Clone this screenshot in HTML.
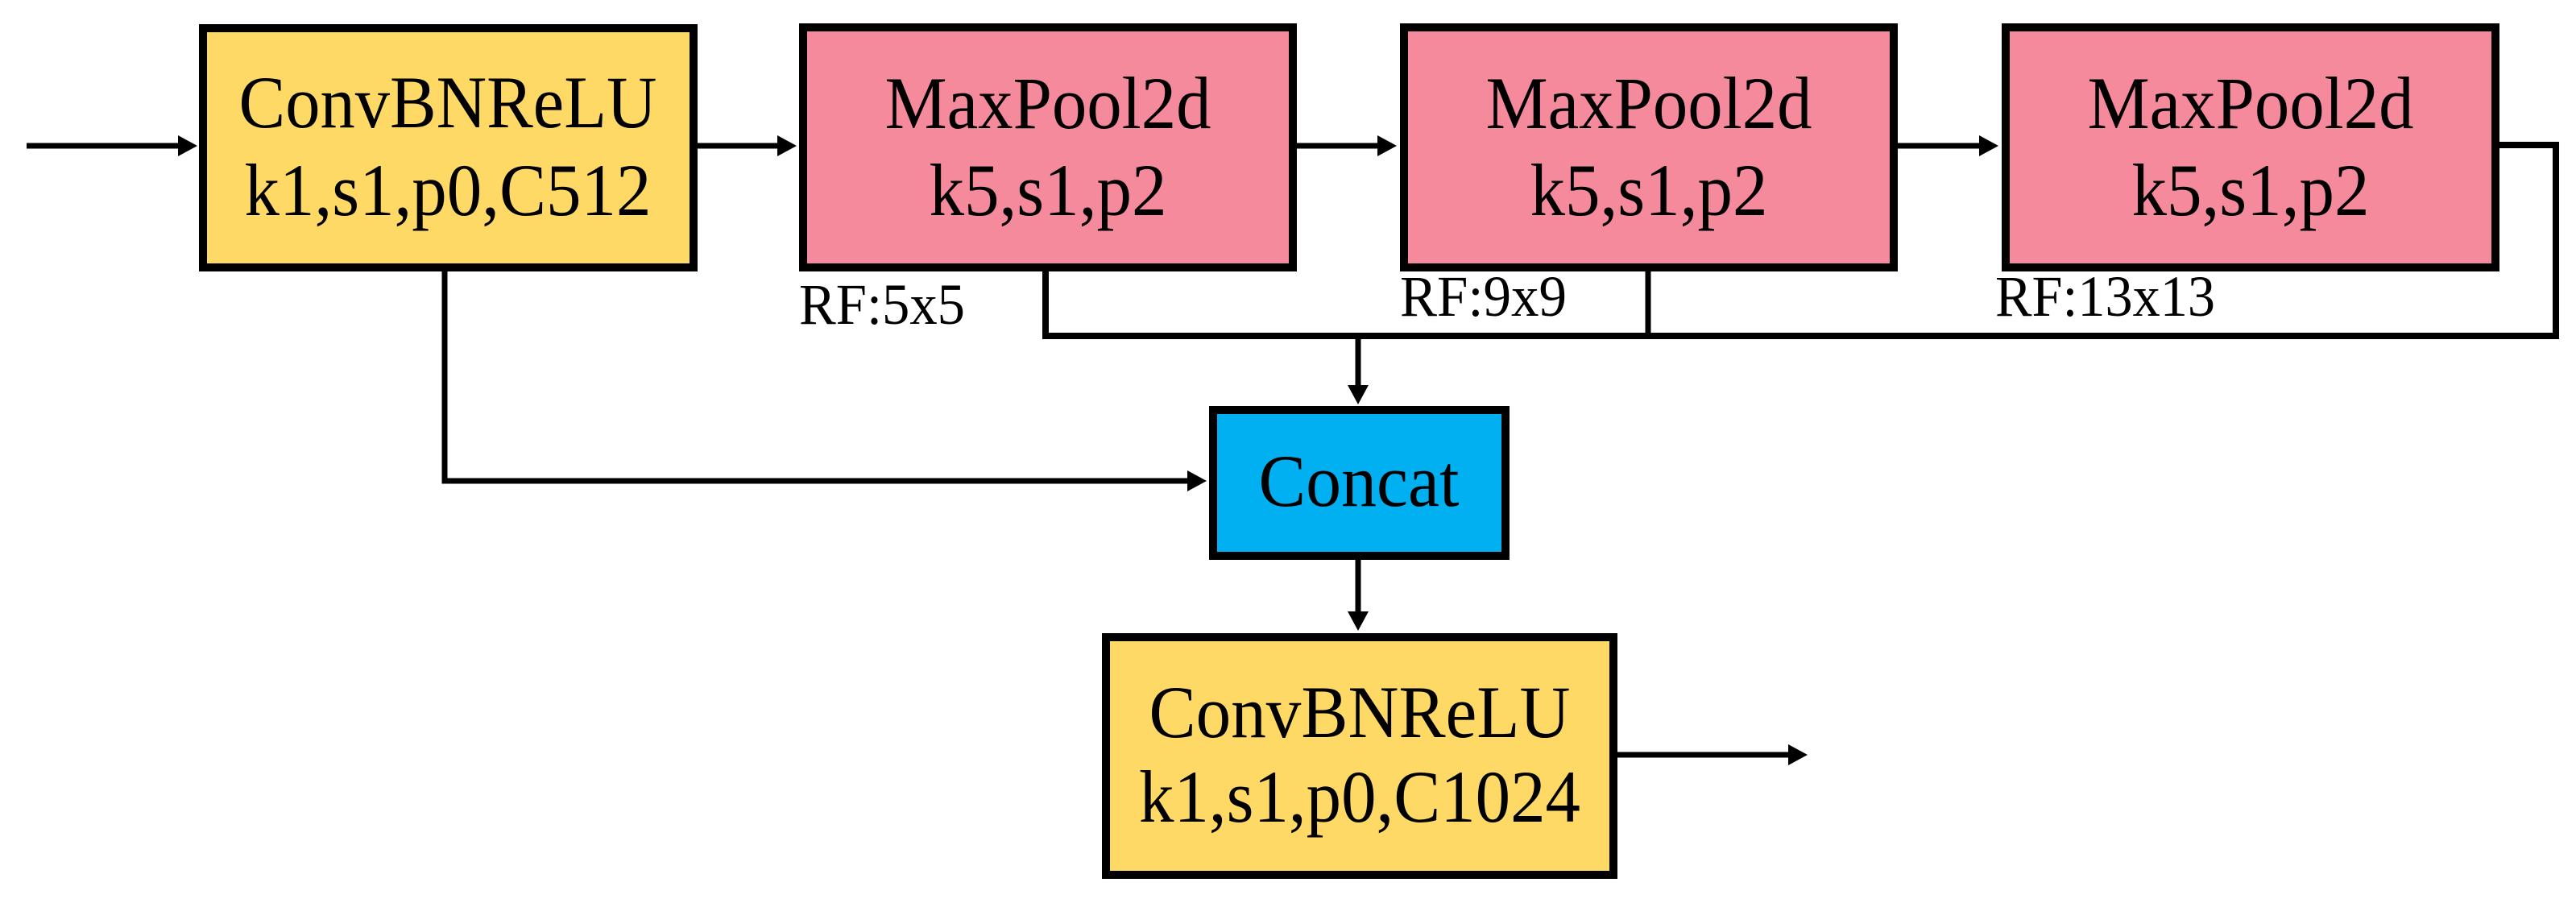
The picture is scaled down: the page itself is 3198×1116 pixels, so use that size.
<!DOCTYPE html>
<html><head><meta charset="utf-8"><style>
html,body{margin:0;padding:0;background:#fff;}
svg{display:block;}
text{font-family:"Liberation Serif","Times New Roman",serif;fill:#000;}
</style></head><body>
<svg width="3198" height="1116" viewBox="0 0 3198 1116" xmlns="http://www.w3.org/2000/svg">
<g stroke="#000" stroke-width="7" fill="none">
  <line x1="33" y1="181" x2="225" y2="181"/>
  <line x1="866" y1="181" x2="970" y2="181"/>
  <line x1="1610" y1="181" x2="1715" y2="181"/>
  <line x1="2356" y1="181" x2="2462" y2="181"/>
  <polyline points="1298,337 1298,417 3173,417 3173,180 3103,180" stroke-width="8"/>
  <line x1="2046" y1="337" x2="2046" y2="417"/>
  <line x1="1686" y1="417" x2="1686" y2="482"/>
  <polyline points="552,337 552,597 1478,597"/>
  <line x1="1686" y1="695" x2="1686" y2="764"/>
  <line x1="2008" y1="937" x2="2222" y2="937"/>
</g>
<g fill="#000">
  <polygon points="245,181 221,168 221,194"/>
  <polygon points="989,181 965,168 965,194"/>
  <polygon points="1734,181 1710,168 1710,194"/>
  <polygon points="2481,181 2457,168 2457,194"/>
  <polygon points="1686,502 1673,478 1699,478"/>
  <polygon points="1498,597 1474,584 1474,610"/>
  <polygon points="1686,783 1673,759 1699,759"/>
  <polygon points="2244,937 2220,924 2220,950"/>
</g>
<g stroke="#000" stroke-width="10">
  <rect x="252" y="35" width="609" height="297" fill="#FFD966"/>
  <rect x="997" y="34" width="608" height="298" fill="#F48A9C"/>
  <rect x="1743" y="34" width="608" height="298" fill="#F48A9C"/>
  <rect x="2490" y="34" width="608" height="298" fill="#F48A9C"/>
  <rect x="1506" y="509" width="363" height="181" fill="#00B0F0"/>
  <rect x="1373" y="791" width="630" height="295" fill="#FFD966"/>
</g>
<g font-size="92" text-anchor="middle">
  <text x="556" y="158" textLength="519" lengthAdjust="spacingAndGlyphs">ConvBNReLU</text>
  <text x="556" y="267" textLength="505" lengthAdjust="spacingAndGlyphs">k1,s1,p0,C512</text>
  <text x="1301" y="159" textLength="405" lengthAdjust="spacingAndGlyphs">MaxPool2d</text>
  <text x="1301" y="267" textLength="295" lengthAdjust="spacingAndGlyphs">k5,s1,p2</text>
  <text x="2047" y="159" textLength="405" lengthAdjust="spacingAndGlyphs">MaxPool2d</text>
  <text x="2047" y="267" textLength="295" lengthAdjust="spacingAndGlyphs">k5,s1,p2</text>
  <text x="2794" y="159" textLength="405" lengthAdjust="spacingAndGlyphs">MaxPool2d</text>
  <text x="2794" y="267" textLength="295" lengthAdjust="spacingAndGlyphs">k5,s1,p2</text>
  <text x="1687" y="628" textLength="249" lengthAdjust="spacingAndGlyphs">Concat</text>
  <text x="1688" y="915" textLength="523" lengthAdjust="spacingAndGlyphs">ConvBNReLU</text>
  <text x="1688" y="1020" textLength="548" lengthAdjust="spacingAndGlyphs">k1,s1,p0,C1024</text>
</g>
<g font-size="72">
  <text x="992" y="402" textLength="206" lengthAdjust="spacingAndGlyphs">RF:5x5</text>
  <text x="1738" y="392" textLength="207" lengthAdjust="spacingAndGlyphs">RF:9x9</text>
  <text x="2477" y="392" textLength="273" lengthAdjust="spacingAndGlyphs">RF:13x13</text>
</g>
</svg>
</body></html>
